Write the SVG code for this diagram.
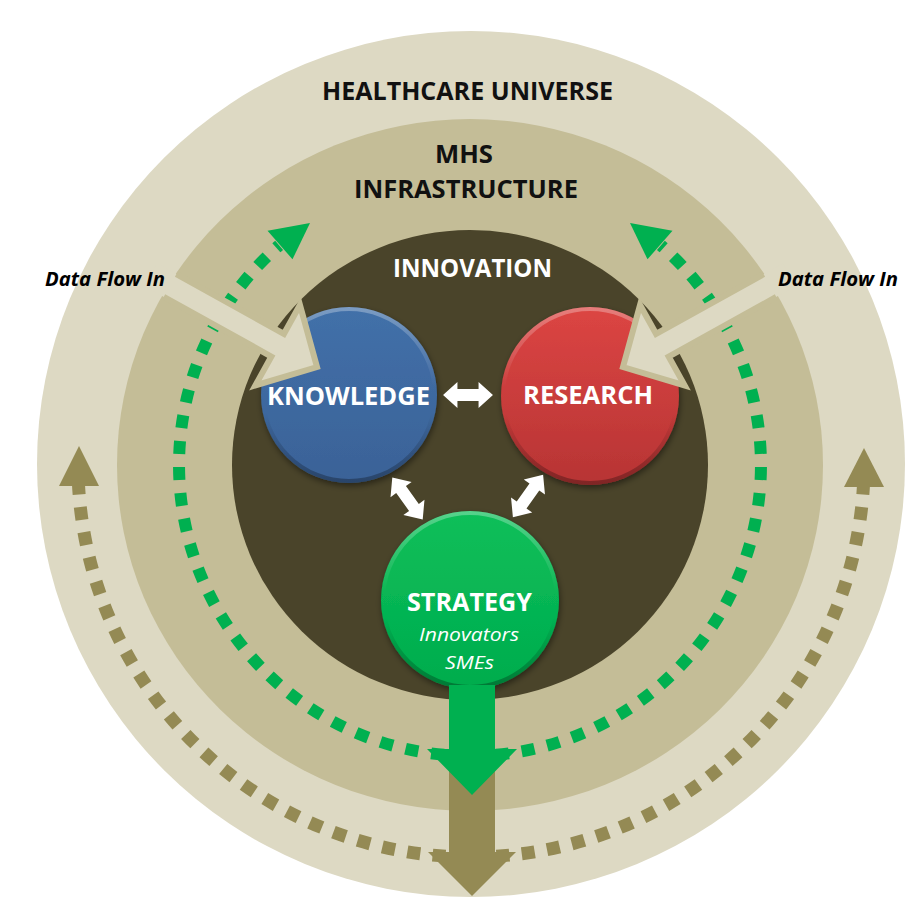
<svg xmlns="http://www.w3.org/2000/svg" width="923" height="923" viewBox="0 0 923 923">
<defs>
<style>
.t{font-family:"Open Sans","Liberation Sans",sans-serif;font-weight:bold;font-size:25px;text-anchor:middle;}
.dk{fill:#111111;}
.wh{fill:#ffffff;}
.sub{font-family:"Open Sans","Liberation Sans",sans-serif;font-style:italic;font-size:19px;text-anchor:middle;fill:#ffffff;}
.dfi{font-family:"Open Sans","Liberation Sans",sans-serif;font-style:italic;font-weight:bold;font-size:20px;fill:#000000;}
.gdot{fill:none;stroke:#00B050;stroke-width:12;stroke-dasharray:13 13;}
.odot{fill:none;stroke:#948A54;stroke-width:13;stroke-dasharray:13 12.5;}
.dfa{fill:#DDD9C3;}
.dfo{fill:none;stroke:#C4BD97;stroke-width:6;stroke-linejoin:miter;}
.wa{fill:#ffffff;}
.bev{fill:none;stroke:url(#bevel);stroke-width:4;}
</style>
<linearGradient id="gBlue" x1="0" y1="0" x2="0" y2="1"><stop offset="0" stop-color="#4270A9"/><stop offset="1" stop-color="#3A6297"/></linearGradient>
<linearGradient id="gRed" x1="0" y1="0" x2="0" y2="1"><stop offset="0" stop-color="#DC4543"/><stop offset="1" stop-color="#B73434"/></linearGradient>
<linearGradient id="gGreen" x1="0" y1="0" x2="0" y2="1"><stop offset="0" stop-color="#0DBF5A"/><stop offset="1" stop-color="#00AC4D"/></linearGradient>
<linearGradient id="bevel" x1="0" y1="0" x2="0" y2="1"><stop offset="0" stop-color="#ffffff" stop-opacity="0.3"/><stop offset="0.45" stop-color="#ffffff" stop-opacity="0"/><stop offset="0.6" stop-color="#000000" stop-opacity="0"/><stop offset="1" stop-color="#000000" stop-opacity="0.3"/></linearGradient>
<filter id="sh" x="-20%" y="-20%" width="140%" height="150%"><feDropShadow dx="1" dy="3" stdDeviation="3" flood-color="#000000" flood-opacity="0.45"/></filter>
<path id="dbl" d="M -26 0 L -11 -13 L -11 -6 L 11 -6 L 11 -13 L 26 0 L 11 13 L 11 6 L -11 6 L -11 13 Z"/>
<path id="dfFill" d="M -190 -13 L -45 -13 L -45 -46 L 0 0 L -45 46 L -45 13 L -190 13 Z"/>
<path id="dfLine" d="M -168 -13 L -45 -13 L -45 -46 L 0 0 L -45 46 L -45 13 L -168 13"/>
</defs>

<g id="healthcare-universe">
<ellipse cx="471" cy="464" rx="434" ry="433" fill="#DDD9C3"/>
<text class="t dk" x="467.5" y="100" textLength="291" lengthAdjust="spacingAndGlyphs">HEALTHCARE UNIVERSE</text>
</g>

<g id="mhs-infrastructure">
<ellipse cx="470" cy="465" rx="353" ry="346" fill="#C4BD97"/>
<text class="t dk" x="464" y="163" textLength="58" lengthAdjust="spacingAndGlyphs">MHS</text>
<text class="t dk" x="466" y="198" textLength="224" lengthAdjust="spacingAndGlyphs">INFRASTRUCTURE</text>
</g>

<g id="innovation">
<ellipse cx="470" cy="465" rx="238" ry="235" fill="#4A442A"/>
<text class="t wh" x="472.5" y="277" textLength="159" lengthAdjust="spacingAndGlyphs">INNOVATION</text>
</g>

<g id="knowledge">
<circle cx="349" cy="395" r="88" fill="url(#gBlue)" filter="url(#sh)"/>
<circle class="bev" cx="349" cy="395" r="86"/>
<text class="t wh" x="348.5" y="405" textLength="163" lengthAdjust="spacingAndGlyphs">KNOWLEDGE</text>
</g>

<g id="research">
<circle cx="590" cy="396" r="89" fill="url(#gRed)" filter="url(#sh)"/>
<circle class="bev" cx="590" cy="396" r="87"/>
<text class="t wh" x="588" y="404" textLength="130" lengthAdjust="spacingAndGlyphs">RESEARCH</text>
</g>

<g id="strategy">
<circle cx="470" cy="600" r="89" fill="url(#gGreen)" filter="url(#sh)"/>
<circle class="bev" cx="470" cy="600" r="87"/>
<text class="t wh" x="469.5" y="611" textLength="125" lengthAdjust="spacingAndGlyphs">STRATEGY</text>
<text class="sub" x="469" y="641" textLength="100" lengthAdjust="spacingAndGlyphs">Innovators</text>
<text class="sub" x="469.5" y="669" textLength="49" lengthAdjust="spacingAndGlyphs">SMEs</text>
</g>

<g id="connectors">
<path class="odot" d="M 471 857 A 393 393 0 0 1 78.5 484.6"/>
<path class="odot" d="M 471 857 A 393 393 0 0 0 863.5 484.6"/>
<polygon points="79,446 59,486 99,486" fill="#948A54"/>
<polygon points="864,448 844,487 884,487" fill="#948A54"/>
<path class="gdot" d="M 470 756 A 291 291 0 0 1 279.1 245.4"/>
<path class="gdot" d="M 470 756 A 291 291 0 0 0 660.9 245.4"/>
<polygon points="310,223 267.5,230.7 292.5,259.3" fill="#00B050"/>
<polygon points="630,223 672.5,230.7 647.5,259.3" fill="#00B050"/>
<path d="M 449 760 L 495 760 L 495 852 L 516 852 L 472 896 L 428 852 L 449 852 Z" fill="#948A54"/>
<path d="M 449 685 L 495 685 L 495 749 L 517 749 L 472 795 L 427 749 L 449 749 Z" fill="#00B050"/>
<g transform="translate(317,367) rotate(29)">
<use href="#dfFill" class="dfa"/>
<use href="#dfLine" class="dfo"/>
</g>
<g transform="translate(940,0) scale(-1,1) translate(317,367) rotate(29)">
<use href="#dfFill" class="dfa"/>
<use href="#dfLine" class="dfo"/>
</g>
<use href="#dbl" class="wa" transform="translate(468,395) scale(0.96,1)"/>
<use href="#dbl" class="wa" transform="translate(407.5,498.5) rotate(54.2)"/>
<use href="#dbl" class="wa" transform="translate(528,496) rotate(125.5)"/>
<text class="dfi" x="45" y="286" textLength="120" lengthAdjust="spacingAndGlyphs">Data Flow In</text>
<text class="dfi" x="778" y="286" textLength="120" lengthAdjust="spacingAndGlyphs">Data Flow In</text>
</g>
</svg>
